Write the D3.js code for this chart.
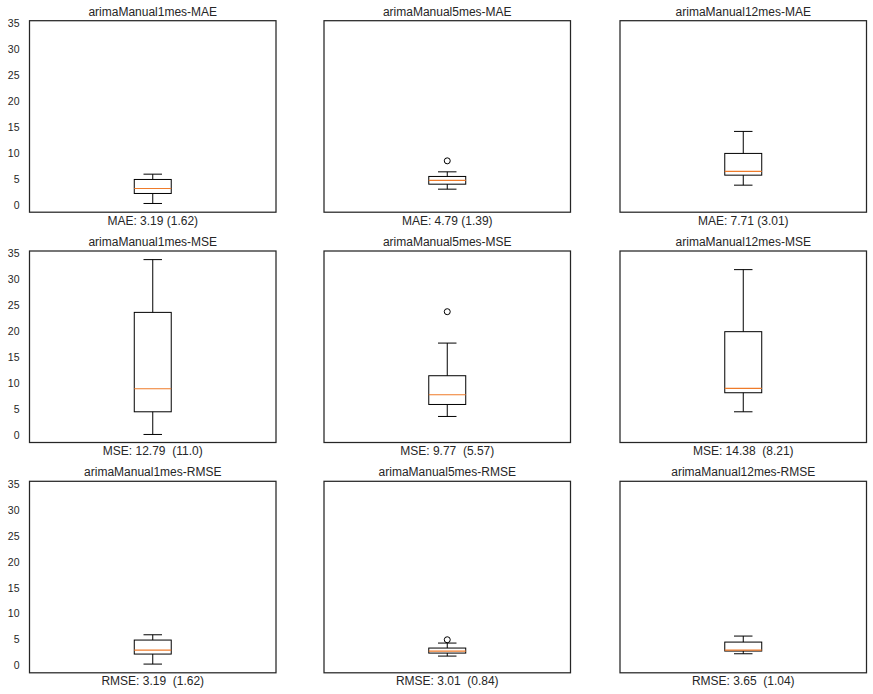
<!DOCTYPE html>
<html>
<head>
<meta charset="utf-8">
<script src="https://cdn.jsdelivr.net/npm/d3@7"></script>
<style>
html,body{margin:0;padding:0;background:#fff;}
svg{display:block;font-family:"Liberation Sans",Arial,sans-serif;}
svg text{white-space:pre;}
</style>
</head>
<body>
<svg id="chart" width="873" height="694"></svg>
<script>
// Panels in row-major order
const titles = [
  "arimaManual1mes-MAE","arimaManual5mes-MAE","arimaManual12mes-MAE",
  "arimaManual1mes-MSE","arimaManual5mes-MSE","arimaManual12mes-MSE",
  "arimaManual1mes-RMSE","arimaManual5mes-RMSE","arimaManual12mes-RMSE"
];
const xlabels = [
  "MAE: 3.19 (1.62)","MAE: 4.79 (1.39)","MAE: 7.71 (3.01)",
  "MSE: 12.79  (11.0)","MSE: 9.77  (5.57)","MSE: 14.38  (8.21)",
  "RMSE: 3.19  (1.62)","RMSE: 3.01  (0.84)","RMSE: 3.65  (1.04)"
];
const whiskerLow  = [0.27, 3.03, 3.80, 0.14, 3.61, 4.51, 0.27, 1.81, 2.26];
const q1          = [2.20, 3.99, 5.73, 4.51, 5.92, 8.18, 2.20, 2.39, 2.78];
const median      = [3.16, 4.71, 6.44, 8.95, 7.79, 9.01, 2.97, 2.78, 2.97];
const q3          = [4.90, 5.48, 9.92, 23.67, 11.46, 19.95, 4.90, 3.36, 4.51];
const whiskerHigh = [5.92, 6.37, 14.16, 33.84, 17.75, 31.91, 5.92, 4.32, 5.67];
const outliers    = [[], [8.49], [], [], [23.8], [], [], [4.96], []];
const yTicks = [0, 5, 10, 15, 20, 25, 30, 35];

const svg = d3.select("#chart");
const colLefts = [29.5, 324, 620];
const rowTops = [20.7, 251, 481.3];
const pw = 246.5, ph = 191.5;
const textColor = "#262626";

const y = d3.scaleLinear().domain([-1.41, 35.5]).range([ph, 0]);
const x = d3.scaleLinear().domain([0.5, 1.5]).range([0, pw]);
const boxW = 0.15, capW = 0.075;

titles.forEach((t, i) => {
  const r = Math.floor(i / 3), c = i % 3;
  const g = svg.append("g").attr("transform", `translate(${colLefts[c]},${rowTops[r]})`);

  if (c === 0) {
    const ax = d3.axisLeft(y).tickValues(yTicks).tickSize(0).tickPadding(10);
    const axg = g.append("g").call(ax);
    axg.select(".domain").remove();
    axg.selectAll("text").attr("fill", textColor).style("font-size", "10.5px")
      .style("font-family", "'Liberation Sans',Arial,sans-serif");
  }

  const cx = x(1);
  g.append("line").attr("x1", cx).attr("x2", cx).attr("y1", y(q3[i])).attr("y2", y(whiskerHigh[i]))
    .attr("stroke", "#000").attr("stroke-width", 1);
  g.append("line").attr("x1", cx).attr("x2", cx).attr("y1", y(q1[i])).attr("y2", y(whiskerLow[i]))
    .attr("stroke", "#000").attr("stroke-width", 1);
  [whiskerLow[i], whiskerHigh[i]].forEach(v => {
    g.append("line").attr("x1", x(1 - capW / 2)).attr("x2", x(1 + capW / 2))
      .attr("y1", y(v)).attr("y2", y(v)).attr("stroke", "#000").attr("stroke-width", 1);
  });
  g.append("rect").attr("x", x(1 - boxW / 2)).attr("width", x(1 + boxW / 2) - x(1 - boxW / 2))
    .attr("y", y(q3[i])).attr("height", y(q1[i]) - y(q3[i]))
    .attr("fill", "none").attr("stroke", "#000").attr("stroke-width", 1);
  g.append("line").attr("x1", x(1 - boxW / 2)).attr("x2", x(1 + boxW / 2))
    .attr("y1", y(median[i])).attr("y2", y(median[i]))
    .attr("stroke", "#ef7b2a").attr("stroke-width", 1.2);
  g.selectAll("circle.out").data(outliers[i]).enter().append("circle")
    .attr("cx", cx).attr("cy", d => y(d)).attr("r", 3)
    .attr("fill", "none").attr("stroke", "#000").attr("stroke-width", 1);

  g.append("rect").attr("x", 0).attr("y", 0).attr("width", pw).attr("height", ph)
    .attr("fill", "none").attr("stroke", "#262626").attr("stroke-width", 1.25);

  g.append("text").attr("x", pw / 2).attr("y", -5).attr("text-anchor", "middle")
    .attr("fill", textColor).style("font-size", "12px").text(t);
  g.append("text").attr("x", pw / 2).attr("y", ph + 12.5).attr("text-anchor", "middle")
    .attr("fill", textColor).style("font-size", "12px").text(xlabels[i]);
});
</script>
</body>
</html>
